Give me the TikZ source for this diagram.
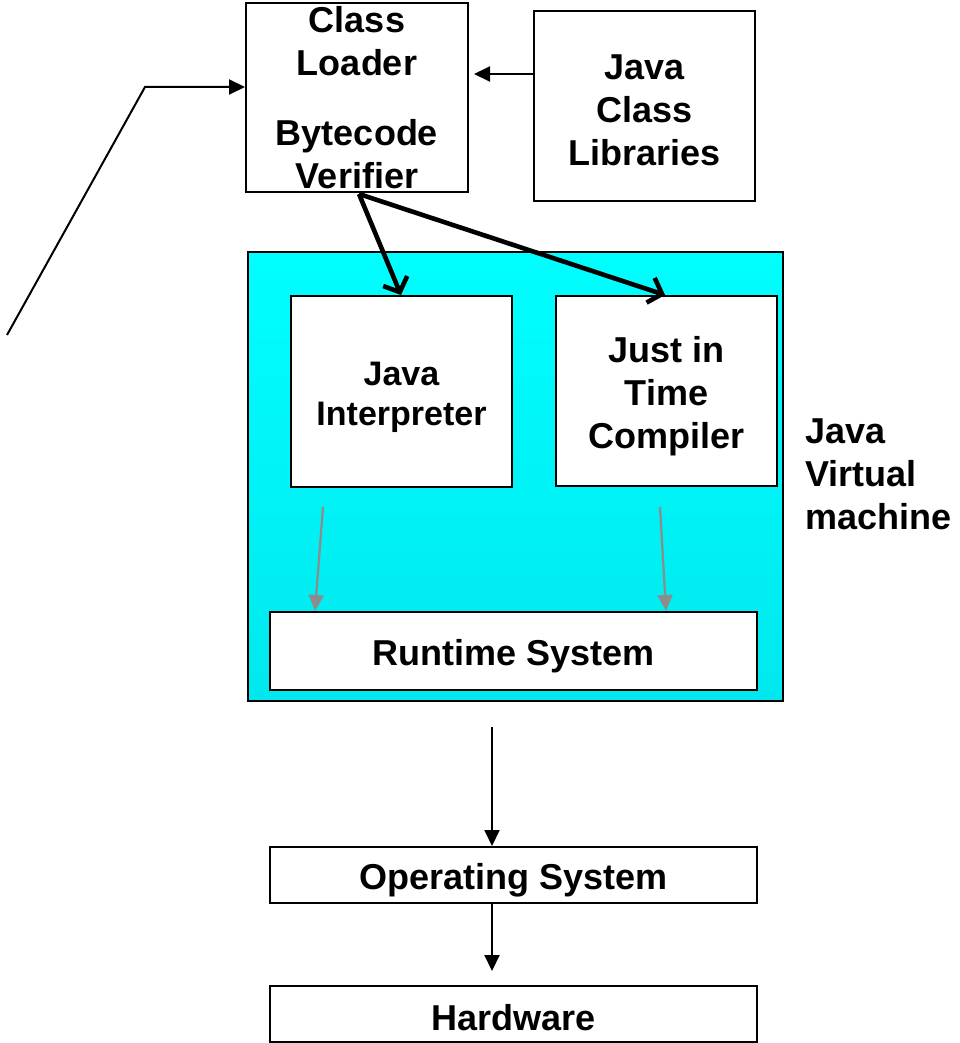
\documentclass[tikz,border=0pt]{standalone}
\usepackage{fontspec}
\setmainfont{Liberation Sans}
\usetikzlibrary{arrows.meta,shadings}
\definecolor{jvmtop}{RGB}{0,255,255}
\definecolor{jvmbot}{RGB}{0,232,238}
\definecolor{rtgray}{RGB}{140,140,140}
\tikzset{
  box/.style={draw=black, line width=2pt, fill=white, inner sep=0pt},
  txt/.style={align=center, inner sep=0pt, font=\bfseries\fontsize{36}{43}\selectfont},
  arr/.style={line width=2pt, -{Triangle[length=16pt,width=15pt]}},
  flow/.style={line width=4.6pt, -{Straight Barb[length=12pt,width=26pt,line width=4.6pt]}},
  grayarr/.style={draw=rtgray, line width=2.2pt, -{Triangle[length=16pt,width=15pt]}},
}
\begin{document}
\begin{tikzpicture}[x=1pt, y=-1pt]
\useasboundingbox (0,0) rectangle (960,1043);

% Java Virtual Machine frame
\node[draw=black, line width=2pt, top color=jvmtop, bottom color=jvmbot,
      minimum width=535pt, minimum height=449pt, inner sep=0pt] (jvm) at (515.5,476.5) {};
\node[txt, anchor=west, align=left] (jvmlabel) at (805,474) {Java\\Virtual\\machine};

% Loader and libraries
\node[box, minimum width=222pt, minimum height=189pt] (cl) at (357,97.5) {};
\node[txt] (cltext) at (cl.center) {Class\\Loader\\[27pt]Bytecode\\Verifier};
\node[box, minimum width=221pt, minimum height=190pt] (jcl) at (644.5,106) {};
\node[txt] (jcltext) at (644.5,110) {Java\\Class\\Libraries};

% Execution engines
\node[box, minimum width=221pt, minimum height=191pt] (interp) at (401.5,391.5) {};
\node[txt, font=\bfseries\fontsize{34}{40}\selectfont] (interptext) at (401.5,397) {Java\\Interpreter};
\node[box, minimum width=221pt, minimum height=190pt] (jit) at (666.5,391) {};
\node[txt, font=\bfseries\fontsize{36}{43}\selectfont] (jittext) at (666.5,396) {Just in\\Time\\Compiler};

% Runtime, OS, hardware layers
\node[box, minimum width=487pt, minimum height=78pt] (rt) at (513.5,651) {};
\node[txt] (rttext) at (513.5,656) {Runtime System};
\node[box, minimum width=487pt, minimum height=56pt] (os) at (513.5,875) {};
\node[txt] (ostext) at (513.5,880) {Operating System};
\node[box, minimum width=487pt, minimum height=56pt] (hw) at (513.5,1014) {};
\node[txt] (hwtext) at (513.5,1018) {Hardware};

% Connectors
\coordinate (src) at (7,335);
\coordinate (bend) at (145,87);
\draw[arr] (src) -- (bend) -- (cl.west |- bend);
\coordinate (clin) at (474,74);
\draw[arr] (jcl.west |- clin) -- (clin);

\coordinate (vfy) at (359,194);
\draw[flow] (vfy) -- (interp.north -| 401,0);
\draw[flow] (vfy) -- (jit.north -| 665,0);

\coordinate (igo) at (323,507);
\coordinate (jgo) at (660,507);
\draw[grayarr] (igo) -- (rt.north -| 315,0);
\draw[grayarr] (jgo) -- (rt.north -| 666,0);

\coordinate (jvmout) at (492,727);
\draw[arr] (jvmout) -- (os.north -| jvmout);
\coordinate (hwin) at (492,971);
\draw[arr] (os.south -| hwin) -- (hwin);
\end{tikzpicture}
\end{document}
